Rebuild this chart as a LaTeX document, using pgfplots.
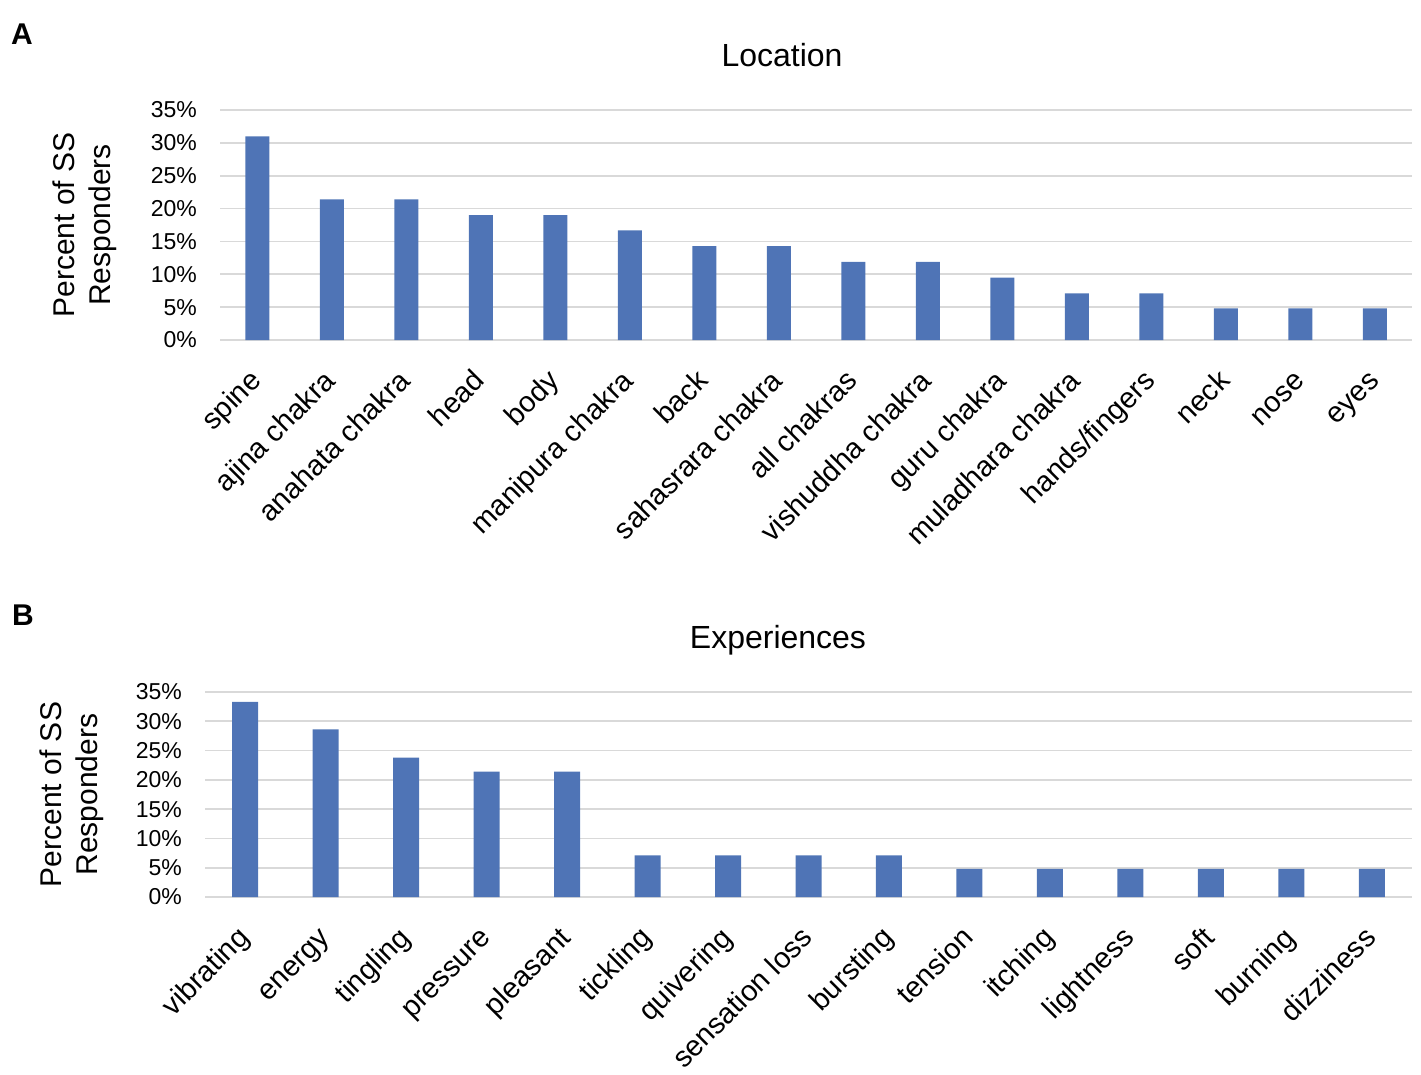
\documentclass[border=0pt]{standalone}
\usepackage{pgfplots}
\pgfplotsset{compat=1.18}
\usepackage{fontspec}
\setmainfont{Liberation Sans}
\definecolor{barblue}{HTML}{4F74B6}
\definecolor{gridgray}{HTML}{D9D9D9}
\pgfplotsset{
  panel/.style={
    scale only axis,
    ymin=0, ymax=35,
    ytick={0,5,...,35},
    yticklabels={0\%,5\%,10\%,15\%,20\%,25\%,30\%,35\%},
    ymajorgrids,
    grid style={gridgray, line width=1.6pt},
    axis line style={draw=none},
    major tick length=0pt,
    yticklabel style={font=\fontsize{23}{27}\selectfont, inner sep=0pt, anchor=east, xshift=-23pt},
    xticklabel style={font=\fontsize{29}{34}\selectfont, rotate=45, anchor=east, inner sep=0pt,
      text height=20pt, text depth=6pt, xshift=-26pt, yshift=-27pt},
    title style={font=\fontsize{32}{38}\selectfont, anchor=base, yshift=38pt},
    ylabel style={font=\fontsize{30}{36}\selectfont, align=center, anchor=center, rotate=0},
    every axis plot/.append style={fill=barblue, draw=none},
    clip=false,
  }
}
\begin{document}
\begin{tikzpicture}
\useasboundingbox (0,0) rectangle (1421pt,-1075pt);
\node[anchor=base west, font=\fontsize{30}{36}\selectfont\bfseries, inner sep=0pt] at (11pt,-45pt) {A};
\node[anchor=base west, font=\fontsize{30}{36}\selectfont\bfseries, inner sep=0pt] at (12pt,-625pt) {B};
\begin{axis}[panel,
  at={(220pt,-340pt)}, anchor=south west,
  width=1192pt, height=230pt,
  xmin=-0.5, xmax=15.5,
  xtick={0,...,15},
  xticklabels={spine,ajina chakra,anahata chakra,head,body,manipura chakra,back,sahasrara chakra,all chakras,vishuddha chakra,guru chakra,muladhara chakra,hands/fingers,neck,nose,eyes},
  title={Location},
  title style={at={(axis description cs:0.4715,1)}},
  ylabel={Percent of SS\\Responders},
  ylabel style={at={(axis description cs:-0.1133,0.5)}},
  bar width=24pt,
]
\addplot[ybar] coordinates {(0,31.0) (1,21.4) (2,21.4) (3,19.0) (4,19.0) (5,16.7) (6,14.3) (7,14.3) (8,11.9) (9,11.9) (10,9.5) (11,7.1) (12,7.1) (13,4.8) (14,4.8) (15,4.8)};
\end{axis}
\begin{axis}[panel,
  at={(205pt,-897pt)}, anchor=south west,
  width=1207pt, height=205pt,
  xmin=-0.5, xmax=14.5,
  xtick={0,...,14},
  xticklabels={vibrating,energy,tingling,pressure,pleasant,tickling,quivering,sensation loss,bursting,tension,itching,lightness,soft,burning,dizziness},
  title={Experiences},
  title style={at={(axis description cs:0.4747,1)}},
  ylabel={Percent of SS\\Responders},
  ylabel style={at={(axis description cs:-0.1102,0.5)}},
  bar width=26pt,
]
\addplot[ybar] coordinates {(0,33.3) (1,28.6) (2,23.8) (3,21.4) (4,21.4) (5,7.1) (6,7.1) (7,7.1) (8,7.1) (9,4.8) (10,4.8) (11,4.8) (12,4.8) (13,4.8) (14,4.8)};
\end{axis}
\end{tikzpicture}
\end{document}
